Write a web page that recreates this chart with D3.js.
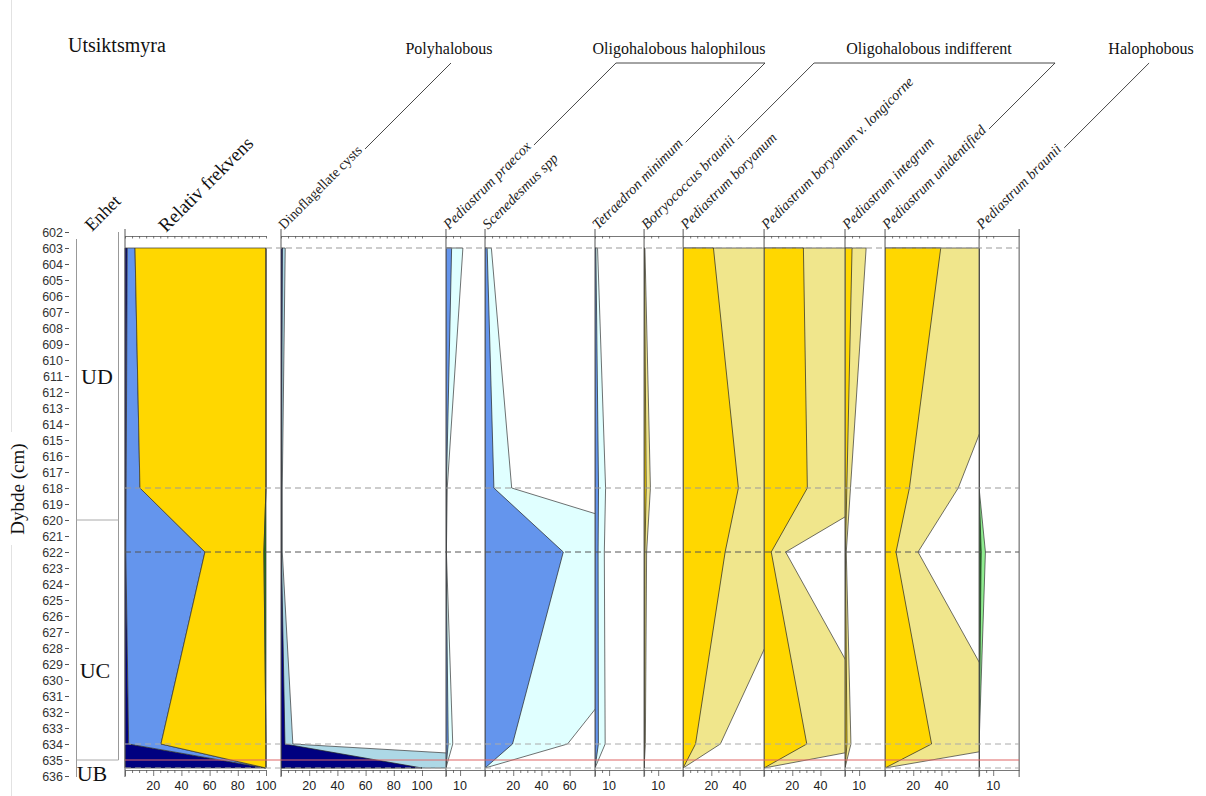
<!DOCTYPE html>
<html><head><meta charset="utf-8">
<script src="https://cdn.jsdelivr.net/npm/d3@7"></script>
<style>
body{margin:0;background:#fff}
svg{display:block}
</style></head><body>
<svg id="chart" width="1206" height="796"></svg>
<script>
// ---- Data -------------------------------------------------------------
// Sample depths (cm)
const sampleDepths = [603, 618, 622, 634, 635.5];
const depthTicks = d3.range(602, 637);

// Relative frequency per salinity group (%)
const polyhalobousPct = [1.6, 0.8, 0.6, 2.6, 100];
const halophilousPct  = [5.5, 9.8, 56.1, 22.9, 0];
const indifferentPct  = [92.9, 89.4, 41.8, 74.5, 0];
const halophobousPct  = [0, 0, 1.5, 0, 0];

// Taxa (%)
const dinoflagellateCysts    = [1.0, 0.3, 0.3, 2.8, 100];
const pediastrumPraecox      = [4.0, 0.3, 0.1, 1.6, 0];
const scenedesmusSpp         = [1.5, 6.3, 55.5, 19.5, 0];
const tetraedronMinimum      = [0.6, 2.5, 2.2, 2.4, 0];
const botryococcusBraunii    = [0.2, 1.5, 0.6, 0.3, 0];
const pediastrumBoryanum     = [21.5, 39.2, 29.8, 8.8, 0];
const pediastrumLongicorne   = [27.9, 30.7, 5.1, 30.3, 0];
const pediastrumIntegrum     = [5.0, 1.3, 0.3, 1.4, 0];
const pediastrumUnidentified = [39.5, 17.3, 7.8, 33.0, 0];
const pediastrumBraunii      = [0, 0, 1.5, 0, 0];

// Lithological units
const unitNames = ["UD", "UC", "UB"];
const unitBoundaries = [620, 635];

// Group names
const groupNames = ["Polyhalobous", "Oligohalobous halophilous", "Oligohalobous indifferent", "Halophobous"];

// ---- Layout ------------------------------------------------------------
const svg = d3.select("#chart");
const pxPerPct = 1.41;
const exaggeration = 3;
const y = d3.scaleLinear().domain([602, 636]).range([232, 776]);
const topAxisY = 236, botAxisY = 770, lineTop = 229, lineBottom = 777;
const serif = "'Liberation Serif', 'Times New Roman', serif";
const sans = "'Liberation Sans', Arial, sans-serif";

const colors = {
  poly: "#000080", polyLight: "#add8e6",
  halo: "#6495ed", haloLight: "#e0ffff",
  indiff: "#ffd700", indiffLight: "#f0e68c",
  phob: "#1f7a1f", phobLight: "#90ee90"
};

// faint frame line at left
svg.append("line").attr("x1", 11.5).attr("x2", 11.5).attr("y1", 0).attr("y2", 432)
  .attr("stroke", "#e2e2e2");
svg.append("line").attr("x1", 11.5).attr("x2", 11.5).attr("y1", 545).attr("y2", 796)
  .attr("stroke", "#e2e2e2");

// Title
svg.append("text").attr("x", 68).attr("y", 52).attr("font-family", serif)
  .attr("font-size", 20).attr("fill", "#111").text("Utsiktsmyra");

// ---- Depth axis --------------------------------------------------------
const depthAxis = d3.axisLeft(y).tickValues(depthTicks).tickSize(4).tickPadding(2).tickFormat(d3.format("d"));
const gDepth = svg.append("g").attr("transform", "translate(69,0)").call(depthAxis);
gDepth.select(".domain").remove();
gDepth.selectAll("line").attr("stroke", "#555");
gDepth.selectAll("text").attr("font-family", sans).attr("font-size", 12.5).attr("fill", "#333");

svg.append("text").attr("transform", "translate(24,489) rotate(-90)")
  .attr("text-anchor", "middle").attr("font-family", serif).attr("font-size", 19)
  .attr("fill", "#111").text("Dybde (cm)");

// ---- Unit column ("Enhet") --------------------------------------------
const unitG = svg.append("g").attr("stroke", "#999").attr("stroke-width", 1);
unitG.append("line").attr("x1", 76.5).attr("x2", 76.5).attr("y1", 239).attr("y2", lineBottom);
unitG.append("line").attr("x1", 118.5).attr("x2", 118.5).attr("y1", 232).attr("y2", y(635));
unitBoundaries.forEach(d => unitG.append("line").attr("x1", 76.5).attr("x2", 118.5)
  .attr("y1", y(d)).attr("y2", y(d)).attr("stroke", "#aaa"));
const unitLabelDepths = [611, 629.4, 635.85];
const unitLabelX = [97, 95, 92];
unitNames.forEach((u, i) => svg.append("text").attr("x", unitLabelX[i]).attr("y", y(unitLabelDepths[i]))
  .attr("dy", "0.35em").attr("text-anchor", "middle").attr("font-family", serif)
  .attr("font-size", 22).attr("fill", "#111").text(u));

svg.append("text").attr("transform", "translate(92,232) rotate(-45)")
  .attr("font-family", serif).attr("font-size", 18).attr("fill", "#111").text("Enhet");
svg.append("text").attr("transform", "translate(166,233) rotate(-45)")
  .attr("font-family", serif).attr("font-size", 19).attr("fill", "#111").text("Relativ frekvens");

// ---- Helpers -----------------------------------------------------------
function drawTopAxis(x, max) {
  const ax = d3.axisBottom(x).tickValues(d3.range(0, max + 0.001, 5)).tickSize(2.5).tickSizeOuter(0).tickFormat("");
  const g = svg.append("g").attr("transform", `translate(0,${topAxisY})`).call(ax);
  g.selectAll("path,line").attr("stroke", "#555").attr("stroke-width", 0.8);
}
function drawBottomAxis(x, max, labels) {
  const minor = d3.range(0, max + 0.001, 5);
  const ax = d3.axisBottom(x).tickValues(minor).tickSize(3).tickSizeOuter(0).tickFormat("");
  const g = svg.append("g").attr("transform", `translate(0,${botAxisY})`).call(ax);
  g.selectAll("path,line").attr("stroke", "#555").attr("stroke-width", 0.8);
  g.selectAll(".tick").filter(d => labels.includes(d) || d === 0).select("line").attr("y2", 6);
  labels.forEach(v => svg.append("text").attr("x", x(v)).attr("y", botAxisY + 20)
    .attr("text-anchor", "middle").attr("font-family", sans).attr("font-size", 12.5)
    .attr("fill", "#222").text(v));
}
function vline(xp, y1 = lineTop, y2 = lineBottom) {
  svg.append("line").attr("x1", xp).attr("x2", xp).attr("y1", y1).attr("y2", y2)
    .attr("stroke", "#555").attr("stroke-width", 1);
}

// ---- Summary panel -----------------------------------------------------
const sumX = d3.scaleLinear().domain([0, 100]).range([125, 125 + 100 * pxPerPct]);
const sumRows = sampleDepths.map((d, i) => ({
  depth: d, poly: polyhalobousPct[i], halo: halophilousPct[i],
  indiff: indifferentPct[i], phob: halophobousPct[i]
}));
const stackKeys = ["poly", "halo", "indiff", "phob"];
const stacked = d3.stack().keys(stackKeys)(sumRows);
const stackArea = d3.area().y(d => y(d.data.depth)).x0(d => sumX(d[0])).x1(d => sumX(d[1]));
svg.append("g").selectAll("path").data(stacked).join("path")
  .attr("d", stackArea).attr("fill", d => colors[d.key])
  .attr("stroke", "#333").attr("stroke-width", 0.7).attr("stroke-linejoin", "round");
drawTopAxis(sumX, 100);
drawBottomAxis(sumX, 100, [20, 40, 60, 80, 100]);
vline(sumX(0));

// ---- Taxon panels ------------------------------------------------------
const panels = [
  { name: "Dinoflagellate cysts", values: dinoflagellateCysts, group: 0, italic: false, width: 117, axisMax: 100, labels: [20, 40, 60, 80, 100], fill: colors.poly, light: colors.polyLight },
  { name: "Pediastrum praecox", values: pediastrumPraecox, group: 1, italic: true, width: 27.7, axisMax: 10, labels: [10], fill: colors.halo, light: colors.haloLight },
  { name: "Scenedesmus spp", values: scenedesmusSpp, group: 1, italic: true, width: 78, axisMax: 60, labels: [20, 40, 60], fill: colors.halo, light: colors.haloLight },
  { name: "Tetraedron minimum", values: tetraedronMinimum, group: 1, italic: true, width: 34.8, axisMax: 10, labels: [10], fill: colors.halo, light: colors.haloLight },
  { name: "Botryococcus braunii", values: botryococcusBraunii, group: 2, italic: true, width: 27.7, axisMax: 10, labels: [10], fill: colors.indiff, light: colors.indiffLight },
  { name: "Pediastrum boryanum", values: pediastrumBoryanum, group: 2, italic: true, width: 57.4, axisMax: 40, labels: [20, 40], fill: colors.indiff, light: colors.indiffLight },
  { name: "Pediastrum boryanum v. longicorne", values: pediastrumLongicorne, group: 2, italic: true, width: 57.4, axisMax: 40, labels: [20, 40], fill: colors.indiff, light: colors.indiffLight },
  { name: "Pediastrum integrum", values: pediastrumIntegrum, group: 2, italic: true, width: 28.4, axisMax: 10, labels: [10], fill: colors.indiff, light: colors.indiffLight },
  { name: "Pediastrum unidentified", values: pediastrumUnidentified, group: 2, italic: true, width: 66.7, axisMax: 50, labels: [20, 40], fill: colors.indiff, light: colors.indiffLight },
  { name: "Pediastrum braunii", values: pediastrumBraunii, group: 3, italic: true, width: 28.4, axisMax: 10, labels: [10], fill: colors.phob, light: colors.phobLight }
];

const defs = svg.append("defs");
let cursor = 281;
const labelEnds = [];
panels.forEach((p, i) => {
  const x0 = cursor, x1 = cursor + p.width * pxPerPct;
  cursor = x1;
  const x = d3.scaleLinear().domain([0, p.width]).range([x0, x1]);
  const rows = sampleDepths.map((d, j) => ({ depth: d, v: p.values[j] }));
  const clipId = "clip" + i;
  defs.append("clipPath").attr("id", clipId).append("rect")
    .attr("x", x0).attr("y", 0).attr("width", x1 - x0).attr("height", 796);
  const g = svg.append("g").attr("clip-path", `url(#${clipId})`);
  // exaggerated silhouette
  g.append("path").datum(rows)
    .attr("d", d3.area().y(d => y(d.depth)).x0(x(0)).x1(d => x(d.v * exaggeration)))
    .attr("fill", p.light).attr("stroke", "#333").attr("stroke-width", 0.7);
  // actual values
  g.append("path").datum(rows)
    .attr("d", d3.area().y(d => y(d.depth)).x0(x(0)).x1(d => x(d.v)))
    .attr("fill", p.fill).attr("stroke", "#222").attr("stroke-width", 0.7);
  drawTopAxis(x, p.axisMax);
  drawBottomAxis(x, p.axisMax, p.labels);
  vline(x0);
  if (i === panels.length - 1) vline(x1);

  // rotated taxon label
  const lx = x0 + 3, ly = 230;
  const t = svg.append("text").attr("transform", `translate(${lx},${ly}) rotate(-45)`)
    .attr("font-family", serif).attr("font-size", p.italic ? 14.5 : 14)
    .attr("font-style", p.italic ? "italic" : "normal").attr("fill", "#222").text(p.name);
  const L = t.node().getComputedTextLength() + 3;
  labelEnds.push({ group: p.group, x: lx + L * Math.SQRT1_2, y: ly - L * Math.SQRT1_2 });
});

// ---- Group headers and leader lines -----------------------------------
const headerY = 63;
const groupCenters = [449, 679, 929, 1151];
const lead = svg.append("g").attr("stroke", "#333").attr("stroke-width", 0.9).attr("fill", "none");
groupNames.forEach((gname, gi) => {
  svg.append("text").attr("x", groupCenters[gi]).attr("y", 54).attr("text-anchor", "middle")
    .attr("font-family", serif).attr("font-size", 16).attr("fill", "#111").text(gname);
  const ends = labelEnds.filter(e => e.group === gi);
  const first = ends[0], last = ends[ends.length - 1];
  const topOf = e => ({ x: e.x + (e.y - headerY), y: headerY });
  const a = topOf(first), b = topOf(last);
  lead.append("line").attr("x1", first.x).attr("y1", first.y).attr("x2", a.x).attr("y2", a.y);
  if (ends.length > 1) {
    lead.append("line").attr("x1", last.x).attr("y1", last.y).attr("x2", b.x).attr("y2", b.y);
    lead.append("line").attr("x1", a.x).attr("y1", headerY).attr("x2", b.x).attr("y2", headerY);
  }
});

// ---- Zone lines --------------------------------------------------------
const zoneStroke = ["#999", "#999", "#555", "#aaa", "#aaa"];
const zoneX0 = [266, 125, 125, 125, 125];
sampleDepths.forEach((d, i) => svg.append("line")
  .attr("x1", zoneX0[i]).attr("x2", 1019).attr("y1", y(d)).attr("y2", y(d))
  .attr("stroke", zoneStroke[i]).attr("stroke-width", 1).attr("stroke-dasharray", "6,4"));
svg.append("line").attr("x1", 125).attr("x2", 1019).attr("y1", y(unitBoundaries[1])).attr("y2", y(unitBoundaries[1]))
  .attr("stroke", "#e06666").attr("stroke-width", 1.2);
</script>
</body></html>
